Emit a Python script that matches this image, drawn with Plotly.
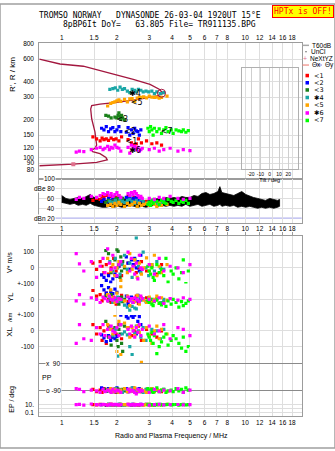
import plotly.graph_objects as go

# ---------------- data ----------------
FREQ_TICKS = [1, 1.5, 2, 3, 4, 5, 6, 7, 8, 10, 12, 14, 16, 18]
FREQ_TICK_TEXT = ["1", "1.5", "2", "3", "4", "5", "6", "7", "8", "10", "12", "14", "16", "18"]
HEIGHT_TICKS = [80, 90, 100, 120, 150, 200, 300, 400, 600, 800]
TILT_TICKS = [-20, -10, 0, 10, 20]

# true-height profile (MHz, km)
PROFILE_FREQ = [0.755, 0.979, 1.311, 1.551, 1.994, 2.455, 3.03, 3.40, 3.58, 3.30, 2.67, 1.994, 1.617,
                1.457, 1.439, 1.457, 1.518, 1.551, 1.518, 1.457, 1.475, 1.617, 1.743, 1.772, 1.551,
                1.157, 0.755]
PROFILE_HEIGHT = [601, 549, 527, 495, 453, 414, 378, 346, 320, 307, 289, 272, 264,
                  257, 241, 202, 159, 125, 118, 114, 111, 107, 99.5, 95.4, 91,
                  88.2, 85.7]

# received amplitude band (dB) 1 - 15 MHz
NOISE_FREQ = [1.00, 1.055, 1.11, 1.17, 1.23, 1.30, 1.36, 1.43, 1.50, 1.58, 1.66, 1.74, 1.83, 1.93, 2.03,
              2.13, 2.24, 2.36, 2.48, 2.60, 2.74, 2.88, 3.03, 3.18, 3.35, 3.52, 3.70, 3.89, 4.09, 4.30,
              4.52, 4.75, 5.00, 5.26, 5.53, 5.81, 6.11, 6.42, 6.75, 7.10, 7.28, 7.46, 7.84, 8.25, 8.67,
              9.11, 9.58, 10.07, 10.6, 11.1, 11.7, 12.3, 12.9, 13.6, 14.3, 15.0, 15.4]
NOISE_UPPER = [66, 60, 58, 60, 62, 60, 64, 68, 62, 60, 58, 56, 55, 58, 56,
               57, 60, 58, 60, 58, 56, 55, 56, 58, 60, 58, 62, 60, 62, 60,
               64, 62, 62, 66, 64, 70, 72, 68, 70, 74, 84, 72, 70, 68, 66,
               70, 74, 68, 64, 62, 60, 58, 56, 60, 58, 56, 58]
NOISE_LOWER = [52, 50, 48, 50, 46, 48, 46, 50, 46, 44, 42, 42, 44, 42, 44,
               42, 44, 46, 44, 42, 44, 42, 44, 46, 44, 46, 44, 46, 44, 46,
               44, 48, 44, 46, 48, 44, 46, 48, 44, 46, 48, 44, 46, 44, 46,
               42, 44, 42, 44, 42, 40, 42, 40, 42, 40, 42, 44]

# class 1 (red)
C1_FREQ = [1.48, 1.55, 1.62, 1.66, 1.70, 1.75, 1.80, 1.86, 1.92, 1.98, 2.05, 2.12, 2.30, 2.40, 2.48, 2.55, 2.62, 2.72, 2.90, 3.10, 3.30, 3.50]
C1_HEIGHT = [145, 140, 135, 142, 138, 140, 136, 142, 138, 140, 135, 145, 138, 130, 125, 128, 140, 130, 135, 128, 130, 125]
C1_DB = [56, 60, 58, 64, 62, 66, 60, 64, 58, 62, 66, 60, 64, 58, 62, 60, 56, 60, 54, 56, 52, 54]
C1_VS = [30, -10, 40, 10, -30, 20, -40, 0, 60, -20, 10, -50, 30, -10, 20, -30, 0, 40, -20, 10, -40, 20]
C1_YL = [56, 20, 30, -10, 10, 40, 0, -20, 15, -30, 5, 25, -15, 10, -5, 20, -25, 0, 10, -10, 5, -20]
C1_XL = [40, -20, 20, -60, 0, -80, 30, -40, 10, -20, 40, -50, 20, -30, 0, -10, 30, -60, 10, -20, -40, 0]
C1_PP = [-80, -95, -85, -100, -75, -90, -85, -95, -80, -100, -90, -85, -95, -80, -90, -100, -85, -95, -80, -90, -85, -95]
C1_EP = [10, 9, 12, 10, 11, 8, 10, 12, 9, 10, 11, 10, 12, 9, 10, 11, 8, 10, 12, 9, 10, 11]

# class 2 (blue)
C2_FREQ = [1.65, 1.70, 1.75, 1.80, 1.85, 1.90, 1.95, 2.00, 2.05, 2.10, 2.25, 2.30, 2.35, 2.40, 2.45, 2.50, 2.55, 2.60, 2.65, 2.70]
C2_HEIGHT = [170, 165, 175, 160, 168, 172, 160, 165, 175, 160, 158, 172, 150, 165, 155, 170, 162, 160, 150, 165]
C2_DB = [54, 58, 52, 60, 56, 62, 58, 54, 60, 56, 62, 58, 64, 56, 60, 58, 62, 54, 60, 56]
C2_VS = [-45, -60, -80, -50, -90, -70, -40, -55, 10, 40, 70, 30, -10, 50, 20, 60, 0, 40, -20, 80]
C2_YL = [87, 60, 40, 75, 50, 37, 65, 45, 10, -10, 20, -30, 0, 15, -20, 5, -10, 25, -5, 10]
C2_XL = [-25, -45, -69, -30, -60, -40, -50, -35, 119, 100, 90, 81, 110, 95, 85, 100, -20, 60, 90, 40]
C2_PP = [-70, -80, -90, -75, -85, -95, -80, -70, -90, -85, -75, -95, -80, -90, -70, -85, -95, -80, -75, -90]
C2_EP = [10, 11, 9, 12, 10, 9, 11, 10, 12, 9, 10, 11, 10, 9, 12, 10, 11, 9, 10, 12]

# class 3 (dark green)
C3_FREQ = [1.74, 1.80, 1.86, 1.95, 2.00, 2.03, 2.05, 2.08, 2.10, 2.12, 2.15, 2.20]
C3_HEIGHT = [215, 212, 205, 208, 205, 215, 225, 210, 200, 215, 205, 198]
C3_DB = [52, 56, 54, 58, 60, 56, 52, 58, 54, 56, 60, 52]
C3_VS = [110, 90, -30, 50, 115, 105, 20, -60, 70, -20, 40, 0]
C3_YL = [20, -10, 30, 0, -20, 10, -30, 5, -5, 15, -15, 0]
C3_XL = [60, -40, -90, 20, -60, -100, 10, -20, 40, -80, -130, 30]
C3_PP = [-80, -90, -85, -95, -75, -100, -80, -90, -85, -95, -80, -90]
C3_EP = [10, 12, 9, 10, 11, 10, 9, 12, 10, 11, 10, 9]

# class 4 (teal)
C4_FREQ = [1.83, 1.90, 1.96, 2.02, 2.08, 2.14, 2.20, 2.28, 2.35, 2.42, 2.50, 2.55, 2.62, 2.70, 2.78, 2.88, 2.98, 3.10, 3.20, 3.30, 3.45, 3.60]
C4_HEIGHT = [345, 350, 355, 340, 360, 345, 350, 335, 325, 345, 340, 330, 345, 340, 330, 335, 330, 335, 320, 330, 320, 325]
C4_DB = [54, 52, 56, 50, 58, 54, 52, 56, 58, 54, 50, 56, 52, 58, 54, 50, 52, 56, 54, 50, 52, 54]
C4_VS = [40, -20, 60, 0, -40, 20, 80, -10, 30, -60, 50, 190, 10, -30, 100, 0, -50, 20, -20, 40, 0, -10]
C4_YL = [10, -20, 0, 15, -10, -5, -37, -50, -69, -45, -55, -60, 20, -5, 5, -15, 10, 0, -10, 5, -20, 0]
C4_XL = [20, -30, 10, -160, 40, -20, -6, -25, -100, -150, -15, 30, 0, -40, 20, -60, -30, 10, -20, 0, -50, 10]
C4_PP = [-80, -90, -75, -95, -85, -100, -80, -90, -85, -70, -95, -80, -90, -85, -100, -80, -90, -75, -95, -85, -90, -80]
C4_EP = [10, 11, 9, 10, 12, 10, 9, 11, 10, 12, 9, 10, 11, 10, 9, 12, 10, 11, 9, 10, 12, 10]

# class 5 (orange)
C5_FREQ = [1.78, 1.85, 1.90, 1.95, 2.00, 2.05, 2.10, 2.20, 2.28, 2.35, 2.42, 2.50, 2.58, 2.65, 2.72, 2.80, 2.90, 3.00, 3.10, 3.20, 3.30, 3.40, 3.50, 3.75]
C5_HEIGHT = [255, 268, 272, 275, 280, 285, 278, 288, 275, 290, 292, 278, 295, 300, 298, 302, 296, 305, 300, 298, 300, 295, 298, 305]
C5_DB = [46, 48, 44, 50, 46, 52, 48, 44, 50, 46, 48, 52, 44, 50, 46, 48, 50, 46, 52, 48, 44, 50, 46, 48]
C5_VS = [60, -20, 20, -50, 0, 40, -80, 10, -30, 90, -10, 50, -60, 30, -40, 0, 63, -20, 20, 80, -50, 10, -30, 20]
C5_YL = [30, 60, 10, -20, 40, 0, 80, -10, 20, -40, 5, -15, 25, -30, 10, -5, -20, 15, -10, 0, 20, -25, 10, -5]
C5_XL = [40, 10, -20, 100, -131, 60, -150, 50, 20, -40, 20, -30, 30, -10, -200, -60, 20, -30, -80, 0, 30, -50, 10, -20]
C5_PP = [-85, -75, -95, -80, -90, -100, -85, -75, -95, -80, -90, -70, -85, -95, -80, -90, -100, -85, -75, -95, -80, -90, -85, -95]
C5_EP = [10, 12, 9, 11, 10, 8, 12, 10, 9, 11, 10, 12, 9, 10, 11, 8, 10, 12, 9, 10, 11, 10, 9, 12]

# class 6 (magenta)
C6_FREQ = [1.20, 1.25, 1.32, 1.45, 1.55, 1.62, 1.68, 1.72, 1.78, 1.82, 1.86, 1.90, 1.95, 2.00, 2.05, 2.10, 2.30,
           2.35, 2.40, 2.45, 2.50, 2.55, 2.60, 2.65, 2.70, 2.75, 3.00, 3.20, 3.40, 3.60, 3.90, 4.30, 4.60, 5.00]
C6_HEIGHT = [110, 112, 111, 115, 118, 120, 115, 118, 122, 115, 120, 118, 125, 120, 118, 112, 120,
             108, 125, 118, 122, 115, 120, 112, 115, 118, 115, 118, 112, 115, 118, 112, 115, 113]
C6_DB = [58, 62, 60, 64, 62, 66, 70, 68, 72, 66, 70, 64, 68, 72, 66, 62, 70,
         66, 72, 68, 74, 70, 66, 62, 64, 60, 60, 58, 62, 60, 64, 60, 58, 60]
C6_VS = [90, 25, -20, 40, -60, 10, 60, -30, 120, 30, -10, 80, 0, -50, 20, 40, 100,
         -20, 60, 10, -40, 30, -70, 80, 0, -10, 20, -40, 60, -20, 10, 0, -30, 20]
C6_YL = [-10, 30, -30, 10, 0, -20, 15, 5, -10, 20, 0, -5, 10, -15, 5, 0, 15,
         -10, 5, -20, 10, 0, -5, -15, 20, 5, 0, -10, 10, -25, 5, -5, 10, 0]
C6_XL = [-80, 40, -50, -60, 20, -20, 40, -30, 10, -40, 30, 0, -10, 20, -30, 40, 10,
         -20, 30, 0, -40, 20, -10, 40, -30, 10, 30, -20, 0, 40, -50, 20, 10, -30]
C6_PP = [-75, -80, -95, -85, -90, -100, -80, -95, -85, -90, -100, -80, -95, -85, -90, -100, -80,
         -95, -85, -90, -100, -110, -80, -95, -85, -90, -100, -80, -95, -85, -90, -75, -100, -85]
C6_EP = [10, 12, 8, 15, 10, 9, 12, 11, 8, 10, 14, 9, 12, 10, 8, 11, 13,
         9, 10, 12, 8, 10, 11, 9, 12, 10, 8, 10, 12, 9, 10, 11, 9, 10]

# class 7 (lime)
C7_FREQ = [2.95, 3.00, 3.05, 3.10, 3.15, 3.20, 3.30, 3.40, 3.50, 3.60, 3.70, 3.80, 3.95, 4.05, 4.20, 4.35, 4.50, 4.60, 4.75, 4.90]
C7_HEIGHT = [170, 160, 175, 165, 150, 170, 160, 168, 155, 165, 172, 160, 165, 155, 165, 162, 160, 165, 158, 163]
C7_DB = [48, 52, 46, 55, 50, 58, 54, 48, 56, 52, 50, 58, 54, 52, 56, 50, 54, 52, 56, 50]
C7_VS = [10, -20, -40, 0, -60, -80, 20, -30, -10, -50, 60, -90, -20, -40, 0, -70, -30, 50, -100, -20]
C7_YL = [-10, -20, 0, -30, -40, -15, -5, -25, -35, -20, -45, -10, -30, 0, -20, -50, -15, -40, -25, -10]
C7_XL = [-20, -40, -60, -10, -80, -30, -145, -100, -70, -40, -20, -90, -60, -30, -50, -80, -110, -40, -130, -100]
C7_PP = [-75, -85, -95, -80, -100, -90, -70, -95, -85, -80, -100, -90, -85, -95, -75, -90, -80, -100, -70, -85]
C7_EP = [10, 12, 9, 11, 10, 8, 12, 10, 9, 11, 10, 12, 9, 10, 11, 8, 10, 12, 9, 10]

CLASS_COLORS = ["#ff0000", "#0000ff", "#1a801a", "#1aa6a6", "#ffa500", "#ff00ff", "#00ff00"]
CLASS_NAMES = ["<1", "<2", "<3", "\u27314", "<5", "\u27316", "<7"]

# cluster label positions on the ionogram
LABEL_FREQ = [2.40, 2.36, 2.14, 2.51, 2.56, 2.51, 3.73]
LABEL_HEIGHT = [133, 159, 196, 316, 269, 112, 159]

# ---------------- layout helpers ----------------
W, H = 335, 451
def px(x):
    return x / W
def py(y):
    return 1 - y / H

X_DOM = [px(39.3), px(301.7)]
X_RANGE = [-0.122, 1.308]
AX = "#9c9c9c"
GRID = "#dedede"
DARK_GRID = "#8a8a8a"
TICKFONT = dict(family="Liberation Sans", size=6.5, color="black")

fig = go.Figure()

def xaxis(anchor, side="bottom", labels=False, line=False, mirror=False, ticks=""):
    return dict(type="log", range=X_RANGE, domain=X_DOM, anchor=anchor, side=side,
                tickvals=FREQ_TICKS, ticktext=FREQ_TICK_TEXT, showticklabels=labels, tickangle=0,
                showgrid=True, gridcolor=GRID, gridwidth=1, zeroline=False,
                showline=line, linecolor=AX, linewidth=1, mirror=mirror,
                ticks=ticks, ticklen=3, tickcolor=AX, tickfont=TICKFONT)

def yaxis(anchor, dom, rng, tickvals, ticktext=None, labels=True, gridcolor=GRID, log=False):
    d = dict(domain=[py(dom[1]), py(dom[0])], range=rng, anchor=anchor,
             tickvals=tickvals, showticklabels=labels, showgrid=True, gridcolor=gridcolor,
             zeroline=False, showline=True, linecolor=AX, linewidth=1, mirror=True,
             ticks="", tickfont=TICKFONT, ticklabelstandoff=3)
    if ticktext is not None:
        d["ticktext"] = ticktext
    if log:
        d["type"] = "log"
    return d

# amplitude band
fig.add_trace(go.Scatter(x=NOISE_FREQ + NOISE_FREQ[::-1], y=NOISE_UPPER + NOISE_LOWER[::-1],
                         xaxis="x2", yaxis="y2", mode="lines", fill="toself", fillcolor="black",
                         line=dict(color="black", width=0.8), hoverinfo="skip"))

# profile
fig.add_trace(go.Scatter(x=PROFILE_FREQ, y=PROFILE_HEIGHT, xaxis="x", yaxis="y", mode="lines",
                         line=dict(color="#a3173f", width=1.3), hoverinfo="skip"))
fig.add_trace(go.Scatter(x=[PROFILE_FREQ[-2]], y=[PROFILE_HEIGHT[-2]], xaxis="x", yaxis="y", mode="markers",
                         marker=dict(symbol="square", size=4, color="#e0708c"), hoverinfo="skip"))

CLASSES = [
    (C1_FREQ, C1_HEIGHT, C1_DB, C1_VS, C1_YL, C1_XL, C1_PP, C1_EP),
    (C2_FREQ, C2_HEIGHT, C2_DB, C2_VS, C2_YL, C2_XL, C2_PP, C2_EP),
    (C3_FREQ, C3_HEIGHT, C3_DB, C3_VS, C3_YL, C3_XL, C3_PP, C3_EP),
    (C4_FREQ, C4_HEIGHT, C4_DB, C4_VS, C4_YL, C4_XL, C4_PP, C4_EP),
    (C5_FREQ, C5_HEIGHT, C5_DB, C5_VS, C5_YL, C5_XL, C5_PP, C5_EP),
    (C6_FREQ, C6_HEIGHT, C6_DB, C6_VS, C6_YL, C6_XL, C6_PP, C6_EP),
    (C7_FREQ, C7_HEIGHT, C7_DB, C7_VS, C7_YL, C7_XL, C7_PP, C7_EP),
]
ORDER = [0, 1, 2, 3, 4, 6, 5]
PANELS = [("x", "y", 1), ("x2", "y2", 2), ("x3", "y3", 3), ("x4", "y4", 4), ("x5", "y5", 5),
          ("x6", "y6", 6), ("x7", "y7", 7)]
for k in ORDER:
    data = CLASSES[k]
    for xa, ya, idx in PANELS:
        fig.add_trace(go.Scatter(x=data[0], y=data[idx], xaxis=xa, yaxis=ya, mode="markers",
                                 marker=dict(symbol="square", size=3.2, color=CLASS_COLORS[k],
                                             line=dict(width=0)),
                                 hoverinfo="skip"))

# cluster markers
fig.add_trace(go.Scatter(x=LABEL_FREQ, y=LABEL_HEIGHT, xaxis="x", yaxis="y", mode="text",
                         text=CLASS_NAMES, textfont=dict(family="DejaVu Sans", size=8, color="black"),
                         hoverinfo="skip"))
fig.add_trace(go.Scatter(x=[3.5], y=[322], xaxis="x", yaxis="y", mode="markers",
                         marker=dict(symbol="circle-open", size=8, color="#a3173f", line=dict(width=1)),
                         hoverinfo="skip"))
# tilt inset (empty)
fig.add_trace(go.Scatter(x=[None], y=[None], xaxis="x8", yaxis="y8", mode="markers", hoverinfo="skip"))

layout = dict(
    width=W, height=H, margin=dict(l=0, r=0, t=0, b=0),
    paper_bgcolor="white", plot_bgcolor="rgba(0,0,0,0)", showlegend=False,
    font=dict(family="Liberation Sans", size=7, color="black"),
    xaxis=xaxis("y", side="top", labels=True, line=True, mirror=True),
    xaxis2=xaxis("y2", side="bottom", labels=True, line=True, mirror=True),
    xaxis3=xaxis("y3", side="top", labels=False, line=True, ticks="outside"),
    xaxis4=xaxis("y4"),
    xaxis5=xaxis("y5"),
    xaxis6=xaxis("y6"),
    xaxis7=xaxis("y7", side="bottom", labels=True, line=True),
    yaxis=yaxis("x", (40, 177.5), [1.83, 2.903], HEIGHT_TICKS, [str(v) for v in HEIGHT_TICKS], log=True),
    yaxis2=yaxis("x2", (177.5, 222), [11, 100], [40, 60, 80], labels=False),
    yaxis3=yaxis("x3", (236, 284), [-100, 200], [100, 0, -100], ["100", "0", "+-100"]),
    yaxis4=yaxis("x4", (284, 316), [-100, 100], [0, -100], ["0", "+-100"]),
    yaxis5=yaxis("x5", (316, 372), [-250, 100], [0, -100], ["0", "-100"]),
    yaxis6=yaxis("x6", (348, 400), [-135, 199], [90, -90], labels=False, gridcolor=DARK_GRID),
    yaxis7=yaxis("x7", (400, 419), [-2, 2.75], [10, 1, 0.1], ["10.", "", "0.1"], log=True),
    xaxis8=dict(domain=[px(241.7), px(297.7)], range=[-30, 30], anchor="y8", tickvals=TILT_TICKS,
                ticktext=[str(v) for v in TILT_TICKS], showgrid=True, gridcolor="#cfcfcf", tickangle=0,
                zeroline=False, showline=True, linecolor="#b0b0b0", mirror=True, ticks="",
                tickfont=dict(family="Liberation Sans", size=5, color="black"),
                title=dict(text="Tilt / deg", font=dict(size=5.5), standoff=0)),
    yaxis8=dict(domain=[py(167.7), py(65)], range=[0, 1], anchor="x8", showgrid=False,
                showticklabels=False, zeroline=False, showline=True, linecolor="#b0b0b0", mirror=True),
)

ann = []
def note(text, x, y, size=7, xanchor="center", angle=0, family="Liberation Sans", color="black", **kw):
    ann.append(dict(text=text, x=px(x), y=py(y), xref="paper", yref="paper", showarrow=False,
                    xanchor=xanchor, yanchor="middle", textangle=angle,
                    font=dict(family=family, size=size, color=color), **kw))

note("TROMSO NORWAY   DYNASONDE 26-03-04 1920UT 15\u00b0E", 150, 12, size=8, family="DejaVu Sans Mono")
note("8pBP6It DoY=   63.805 File= TR911135.BPG", 159, 21, size=8, family="DejaVu Sans Mono")
note("HPTx is OFF!", 302.5, 8, size=8, family="DejaVu Sans Mono", color="#ff0000",
     bgcolor="#ffff00", bordercolor="#ff0000", borderwidth=1, borderpad=1)
note("R', R / km", 13, 72, size=8, angle=-90)
note("V* m/s", 10, 263, size=7, angle=-90)
note("YL", 10, 298, size=8, angle=-90)
note("/km", 10, 318, size=6, angle=-90)
note("XL", 10, 333, size=8, angle=-90)
note("EP / deg", 12, 402, size=7, angle=-90)
note("PP", 47, 379, size=7)
note("Radio and Plasma Frequency / MHz", 171, 439, size=7)

# dB labels inside the frame
for txt, val in [("100", 100), ("dBe 80", 80), ("60", 60), ("40", 40), ("dBn 20", 20)]:
    ann.append(dict(text=txt, x=px(56), y=val, xref="paper", yref="y2", showarrow=False,
                    xanchor="right", yanchor="middle", bgcolor="white", borderpad=0,
                    font=dict(family="Liberation Sans", size=6.5, color="black")))
for txt, val in [("x  90", 90), ("o -90", -90)]:
    ann.append(dict(text=txt, x=px(45), y=val, xref="paper", yref="y6", showarrow=False,
                    xanchor="left", yanchor="middle", bgcolor="white", borderpad=0,
                    font=dict(family="Liberation Sans", size=6.5, color="black")))

# legend
note("T60dB", 310, 42, size=6.5, xanchor="left")
note("UnCl", 309, 48.5, size=6.5, xanchor="left")
note("NeXtYZ", 308, 55, size=6.5, xanchor="left")
note("\u0398x", 309.5, 61.5, size=6.5, xanchor="left")
note("\u0398y", 322.5, 61.5, size=6.5, xanchor="left")
note("+", 305, 55, size=7, color="#e07090")
LEG_Y = [72.7, 80, 87.3, 95, 102.7, 110.7, 118.3]
shapes = []
for i, yy in enumerate(LEG_Y):
    note(CLASS_NAMES[i], 311.5, yy, size=6.5, xanchor="left", family="DejaVu Sans")
    shapes.append(dict(type="rect", xref="paper", yref="paper", x0=px(305.5), x1=px(309),
                       y0=py(yy + 1.8), y1=py(yy - 1.8), fillcolor=CLASS_COLORS[i], line=dict(width=0)))
shapes += [
    dict(type="line", xref="paper", yref="paper", x0=px(302.5), x1=px(309), y0=py(42), y1=py(42),
         line=dict(color="#a8a8a8", width=1.5)),
    dict(type="rect", xref="paper", yref="paper", x0=px(305.5), x1=px(306.5), y0=py(49), y1=py(48),
         fillcolor="black", line=dict(width=0)),
    dict(type="line", xref="paper", yref="paper", x0=px(302.5), x1=px(309), y0=py(62), y1=py(62),
         line=dict(color="#f08a80", width=1.2)),
    dict(type="line", xref="paper", yref="paper", x0=px(316), x1=px(322), y0=py(62), y1=py(62),
         line=dict(color="#9a9ae8", width=1.2)),
    dict(type="line", xref="x2 domain", yref="y2", x0=0, x1=1, y0=20, y1=20,
         line=dict(color="#b4b4ee", width=1.2), layer="below"),
    dict(type="rect", xref="paper", yref="paper", x0=0, x1=1, y0=0, y1=1,
         line=dict(color="#a0a0a0", width=1.5)),
]

layout["annotations"] = ann
layout["shapes"] = shapes
fig.update_layout(**layout)
fig.write_html("out.html")
